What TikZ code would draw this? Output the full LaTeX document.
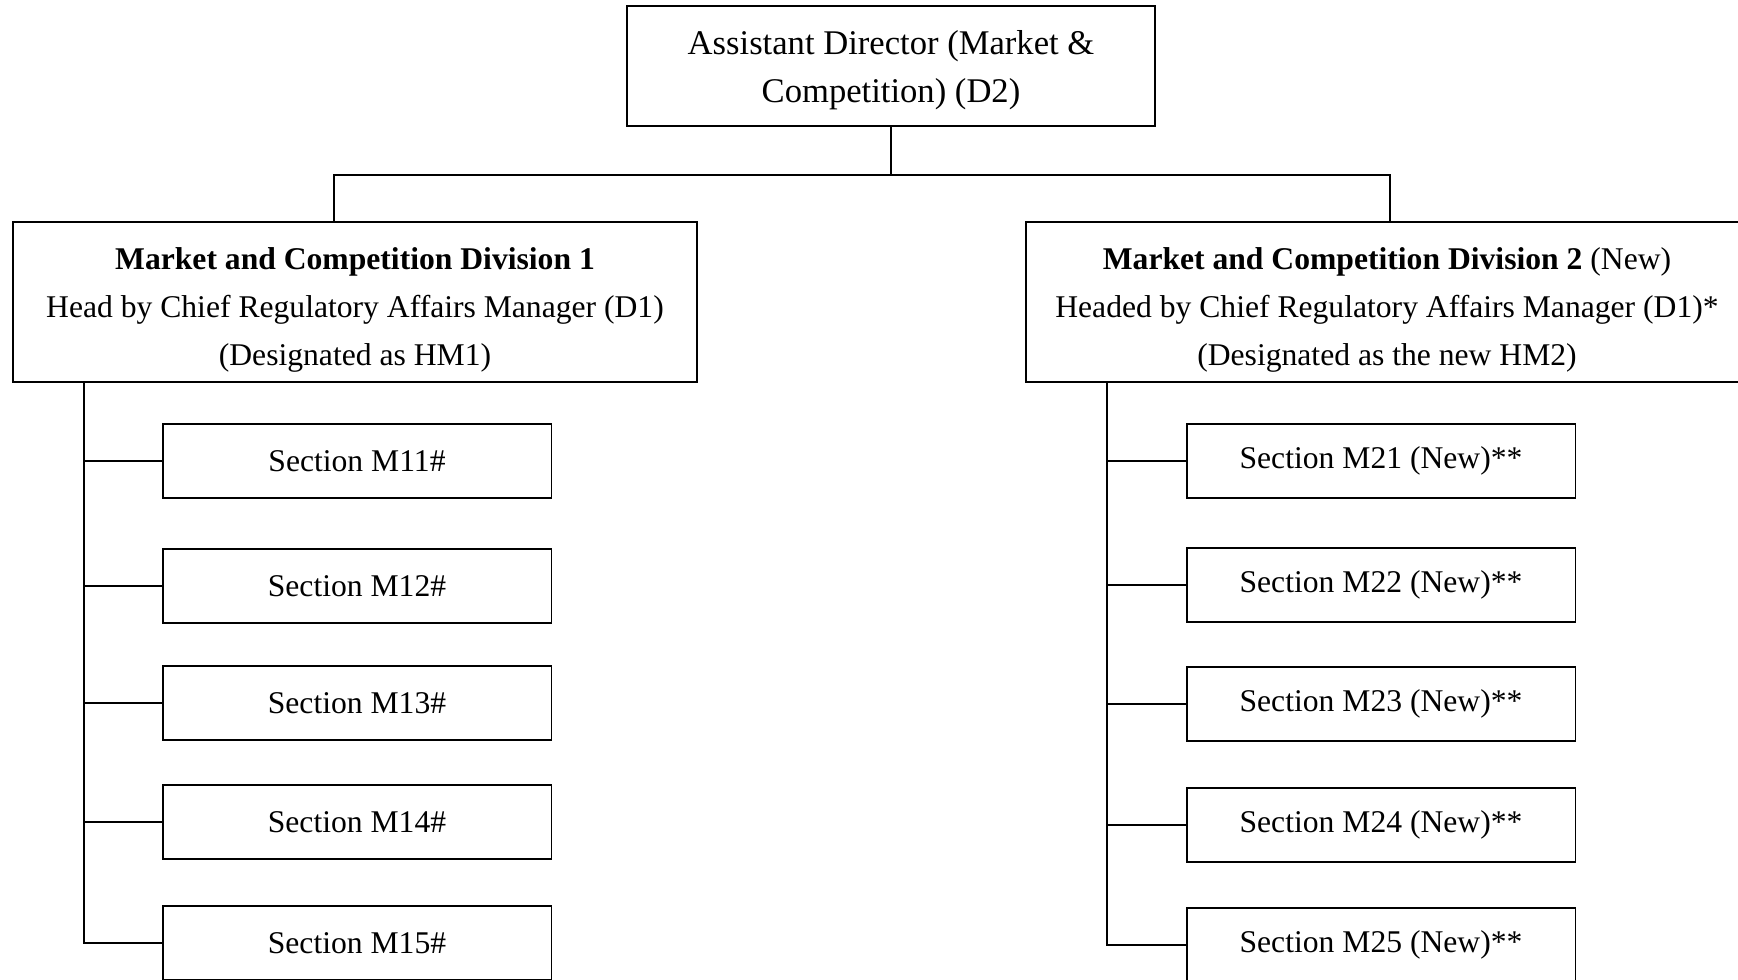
\documentclass[tikz,border=0pt]{standalone}
\usepackage{fontspec}
\setmainfont{Liberation Serif}
\newcommand\topstrut[1]{\rule{0pt}{#1}}
\begin{document}
\begin{tikzpicture}[x=0.02cm, y=-0.02cm, line width=0.9pt,
  box/.style={draw, line width=1.1pt, align=center, inner sep=0pt,
    font=\fontsize{18}{27.3}\selectfont},
  div/.style={box, minimum height=3.2cm},
  sec/.style={box, minimum width=7.78cm, minimum height=1.48cm}]
\useasboundingbox (0,0) rectangle (1738,980);
\clip (0,0) rectangle (1738,980);
\node[box, minimum width=10.58cm, minimum height=2.4cm,
  font=\fontsize{19.7}{27.1}\selectfont] (ad) at (891,66)
  {\topstrut{18.5pt}Assistant Director (Market \&\\Competition) (D2)};
\node[div, minimum width=13.68cm] (d1) at (355,302)
  {\topstrut{21pt}\textbf{Market and Competition Division 1}\\
   Head by Chief Regulatory Affairs Manager (D1)\\
   (Designated as HM1)};
\node[div, minimum width=14.44cm] (d2) at (1387,302)
  {\topstrut{21pt}\textbf{Market and Competition Division 2} (New)\\
   Headed by Chief Regulatory Affairs Manager (D1)*\\
   (Designated as the new HM2)};
\foreach \i/\y in {1/461, 2/586, 3/703, 4/822, 5/943}
  \node[sec] (s1\i) at (357,\y) {Section M1\i\#};
\foreach \i/\y in {1/461, 2/585, 3/704, 4/825, 5/945}
  \node[sec] (s2\i) at (1381,\y) {Section M2\i\ (New)**};
\coordinate (fork) at (891,175);
\coordinate (d1top) at (334,222);
\coordinate (d2top) at (1390,222);
\coordinate (t1) at (84,382);
\coordinate (t2) at (1107,382);
\draw (ad.south) -- (fork);
\draw (fork) -| (d1top);
\draw (fork) -| (d2top);
\draw (t1) |- (s15.west);
\draw (t2) |- (s25.west);
\foreach \i in {1,...,4} {
  \draw (s1\i.west) -- (s1\i.west -| t1);
  \draw (s2\i.west) -- (s2\i.west -| t2);
}
\end{tikzpicture}
\end{document}
